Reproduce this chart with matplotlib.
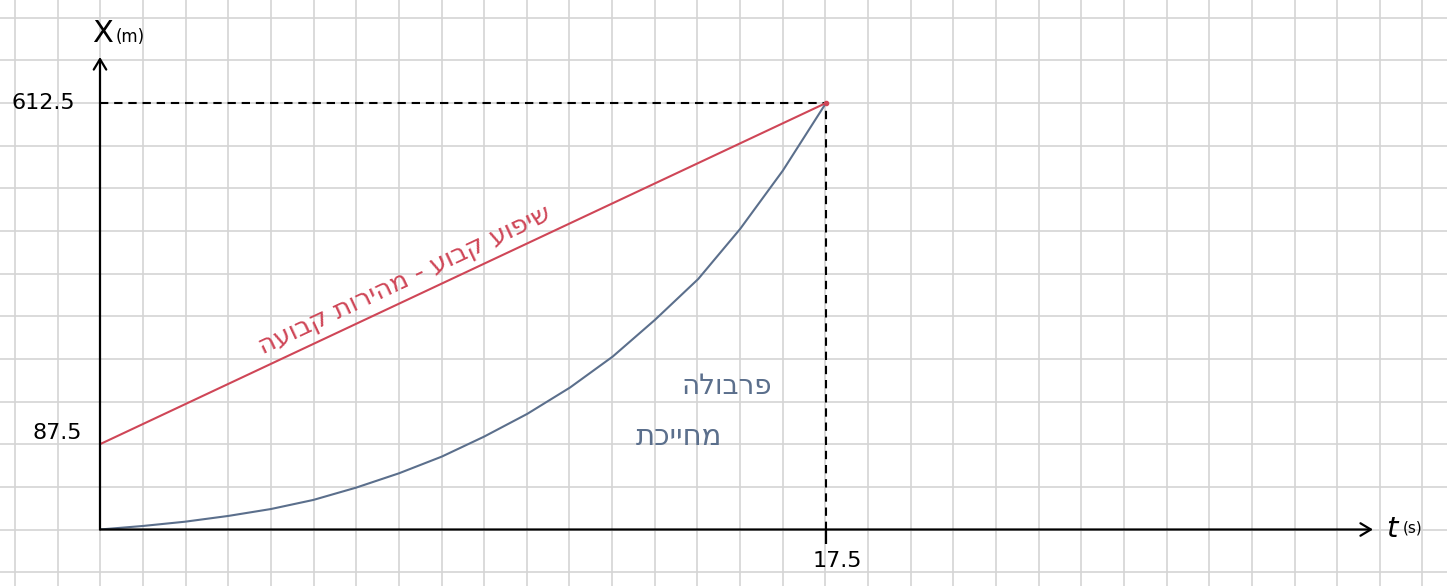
import numpy as np
import matplotlib.pyplot as plt

plt.rcParams['font.family'] = ['DejaVu Sans']

# red line: constant slope
t_red = [0, 17.5]
x_red = [87.5, 612.5]

# blue curve: parabola
t_blue = [0, 1.03, 2.05, 3.09, 4.12, 5.14, 6.17, 7.21, 8.24, 9.26, 10.30,
          11.33, 12.36, 13.38, 14.42, 15.43, 16.46, 17.5]
x_blue = [0, 3.6, 8.0, 13.9, 21.0, 30.3, 42.9, 57.7, 74.8, 99.2, 134.2,
          174.7, 222.4, 279.0, 341.7, 418.7, 508.5, 612.5]

t_end = 17.5
x_end = 612.5
y_ticks = [612.5, 87.5]
y_tick_labels = ['612.5', '87.5']
x_ticks = [17.5]
x_tick_labels = ['17.5']

red_label = 'שיפוע קבוע - מהירות קבועה'
blue_label = ['פרבולה', 'מחייכת']

RED = '#cf4657'
BLUE = '#5b6f8c'
W, H = 1447, 586


def rtl(s):
    # matplotlib has no bidi support, reverse for visual order
    return s[::-1]


# the sketch's y axis is not to scale: 87.5 sits 2 squares up, 612.5 sits 10 squares up
def fwd(y):
    y = np.asarray(y, dtype=float)
    return np.where(y <= 87.5, y / 87.5 * 2, 2 + (y - 87.5) / 525 * 8)


def inv(c):
    c = np.asarray(c, dtype=float)
    return np.where(c <= 2, c * 87.5 / 2, 87.5 + (c - 2) * 525 / 8)


fig = plt.figure(figsize=(W / 100, H / 100), dpi=100)

# squared paper background
bg = fig.add_axes([0, 0, 1, 1], zorder=0)
bg.set_xlim(0, W)
bg.set_ylim(H, 0)
bg.axis('off')
cell = 42.65
for gx in np.arange(15, W, cell):
    bg.axvline(gx, color='#d4d4d4', lw=1.2)
for gy in np.arange(529.5, 0, -cell):
    bg.axhline(gy, color='#d4d4d4', lw=1.2)
for gy in np.arange(529.5 + cell, H, cell):
    bg.axhline(gy, color='#d4d4d4', lw=1.2)

x0, y0 = 100, 529.5
x_tip, y_tip = 1373, 57
ax = fig.add_axes([x0 / W, (H - y0) / H, (x_tip - x0) / W, (y0 - y_tip) / H], zorder=1)
ax.patch.set_alpha(0)
ax.set_yscale('function', functions=(fwd, inv))
ax.set_xlim(0, t_end * (x_tip - x0) / (826 - x0))
ax.set_ylim(0, float(inv((y0 - y_tip) / cell)))
for s in ax.spines.values():
    s.set_visible(False)
ax.set_yticks([])
ax.set_xticks(x_ticks)
ax.set_xticklabels([''])
ax.tick_params(axis='x', direction='out', length=10, width=1.6, color='black')

# axes with arrows
arrow = dict(arrowstyle='->,head_length=0.5,head_width=0.3', lw=1.6, color='black',
             mutation_scale=15, shrinkA=0, shrinkB=0)
ax.annotate('', xy=(1, 0), xytext=(0, 0), xycoords='axes fraction', arrowprops=arrow)
ax.annotate('', xy=(0, 1), xytext=(0, 0), xycoords='axes fraction', arrowprops=arrow)

ax.plot([0, t_end], [x_end, x_end], color='black', lw=1.5, ls=(0, (4, 2.8)))
ax.plot([t_end, t_end], [0, x_end], color='black', lw=1.5, ls=(0, (4, 2.8)))

ax.plot(t_red, x_red, color=RED, lw=1.5)
ax.plot(t_blue, x_blue, color=BLUE, lw=1.5, solid_joinstyle='round')
ax.plot([t_end], [x_end], 'o', color=RED, ms=3)

# tick labels
ax.annotate(y_tick_labels[0], xy=(0, y_ticks[0]), xytext=(-18, 0), textcoords='offset points',
            ha='right', va='center', fontsize=16)
ax.annotate(y_tick_labels[1], xy=(0, y_ticks[1]), xytext=(-13, 8), textcoords='offset points',
            ha='right', va='center', fontsize=16)
ax.annotate(x_tick_labels[0], xy=(x_ticks[0], 0), xytext=(8, -23), textcoords='offset points',
            ha='center', va='center', fontsize=16)

# axis names
ax.text(103, 33, 'X', transform=bg.transData, ha='center', va='center', fontsize=22)
ax.text(116, 37, '(m)', transform=bg.transData, ha='left', va='center', fontsize=12)
ax.text(1392, 529, 't', transform=bg.transData, ha='center', va='center', fontsize=21,
        style='italic')
ax.text(1403, 528, '(s)', transform=bg.transData, ha='left', va='center', fontsize=11)

# handwritten notes
ax.text(405, 280, rtl(red_label), transform=bg.transData, ha='center', va='center',
        rotation=25.1, rotation_mode='anchor', fontsize=19, color=RED)
ax.text(772, 386, rtl(blue_label[0]), transform=bg.transData, ha='right', va='center',
        fontsize=20, color=BLUE)
ax.text(722, 437, rtl(blue_label[1]), transform=bg.transData, ha='right', va='center',
        fontsize=21, color=BLUE)

fig.savefig('out.png', dpi=100, facecolor='white')
